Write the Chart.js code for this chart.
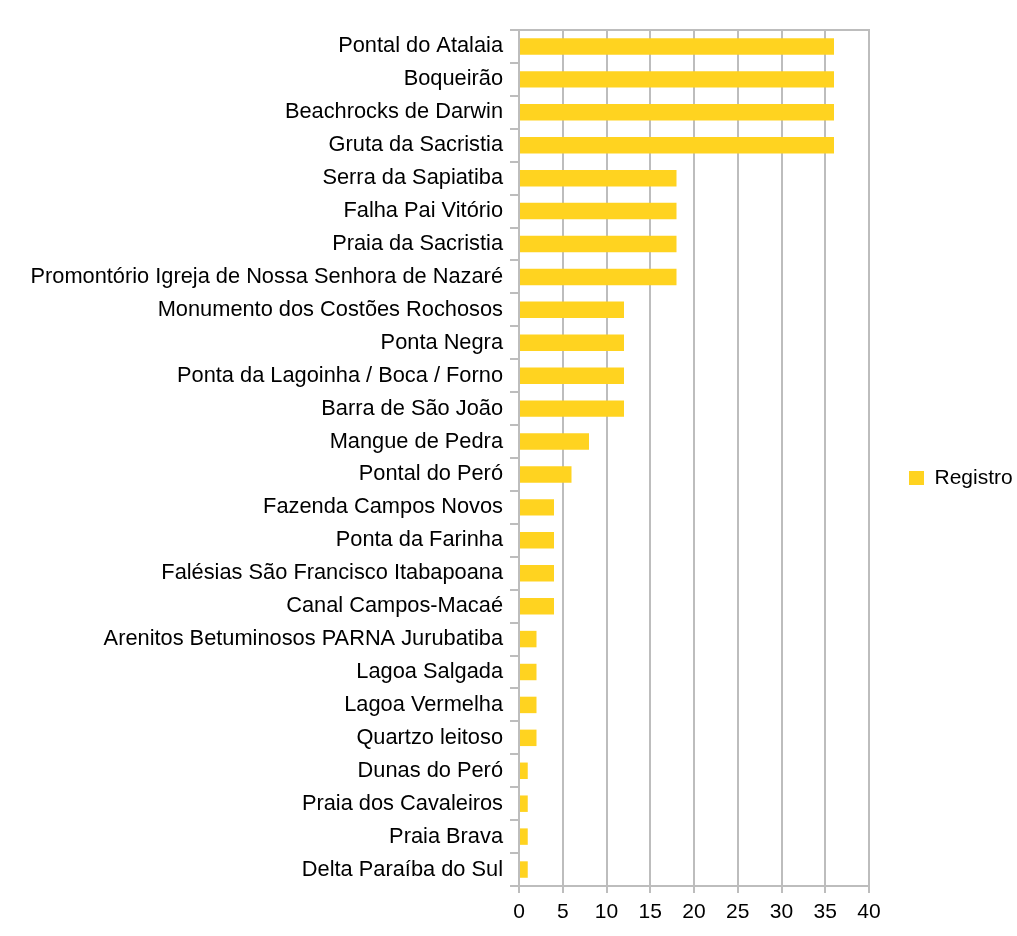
<!DOCTYPE html>
<html>
<head>
<meta charset="utf-8">
<script src="https://cdn.jsdelivr.net/npm/chart.js@4/dist/chart.umd.min.js"></script>
<style>
  html, body { margin: 0; padding: 0; background: #fff; }
  #wrap { width: 1017px; height: 936px; position: relative; }
</style>
</head>
<body>
<div id="wrap"><canvas id="c" width="1017" height="936"></canvas></div>
<script>
// Geosites and number of records
const categories = [
  'Pontal do Atalaia',
  'Boqueirão',
  'Beachrocks de Darwin',
  'Gruta da Sacristia',
  'Serra da Sapiatiba',
  'Falha Pai Vitório',
  'Praia da Sacristia',
  'Promontório Igreja de Nossa Senhora de Nazaré',
  'Monumento dos Costões Rochosos',
  'Ponta Negra',
  'Ponta da Lagoinha / Boca / Forno',
  'Barra de São João',
  'Mangue de Pedra',
  'Pontal do Peró',
  'Fazenda Campos Novos',
  'Ponta da Farinha',
  'Falésias São Francisco Itabapoana',
  'Canal Campos-Macaé',
  'Arenitos Betuminosos PARNA Jurubatiba',
  'Lagoa Salgada',
  'Lagoa Vermelha',
  'Quartzo leitoso',
  'Dunas do Peró',
  'Praia dos Cavaleiros',
  'Praia Brava',
  'Delta Paraíba do Sul'
];
const registro = [36, 36, 36, 36, 18, 18, 18, 18, 12, 12, 12, 12, 8, 6, 4, 4, 4, 4, 2, 2, 2, 2, 1, 1, 1, 1];
const seriesName = 'Registro';
const xTicks = [0, 5, 10, 15, 20, 25, 30, 35, 40];

const GRID = '#bdbdbd';
const FONT = 'Liberation Sans, Arial, sans-serif';

// Top edge of the frame around the plotting area
const frame = {
  id: 'frame',
  beforeDatasetsDraw(chart) {
    const a = chart.chartArea, ctx = chart.ctx;
    ctx.save();
    ctx.strokeStyle = GRID;
    ctx.lineWidth = 2;
    ctx.beginPath();
    ctx.moveTo(a.left, a.top);
    ctx.lineTo(a.right + 1, a.top);
    ctx.stroke();
    ctx.restore();
  }
};

// Fixed legend column width
const legendWidth = {
  id: 'legendWidth',
  afterInit(chart) {
    const lg = chart.legend;
    const fit = lg.fit.bind(lg);
    lg.fit = function () { fit(); this.width = 148; };
  }
};

new Chart(document.getElementById('c'), {
  type: 'bar',
  data: {
    labels: categories,
    datasets: [{
      label: seriesName,
      data: registro,
      backgroundColor: '#ffd320',
      borderWidth: 0,
      categoryPercentage: 1,
      barPercentage: 0.5
    }]
  },
  options: {
    indexAxis: 'y',
    responsive: false,
    animation: false,
    devicePixelRatio: 1,
    layout: { padding: { top: 30, bottom: 10, left: 0, right: 0 } },
    plugins: {
      tooltip: { enabled: false },
      legend: {
        position: 'right',
        labels: {
          boxWidth: 15,
          boxHeight: 14,
          padding: 40,
          color: '#000',
          font: { family: FONT, size: 21 }
        }
      }
    },
    scales: {
      x: {
        min: 0,
        max: 40,
        afterBuildTicks(s) { s.ticks = xTicks.map(v => ({ value: v })); },
        afterFit(s) { s.height = 40; },
        grid: { color: GRID, lineWidth: 2, tickLength: 7, drawOnChartArea: true },
        border: { display: true, color: GRID, width: 2 },
        ticks: { color: '#000', font: { family: FONT, size: 21 }, padding: 7 }
      },
      y: {
        afterFit(s) { s.width = 519; },
        grid: { color: GRID, lineWidth: 2, tickLength: 9, drawOnChartArea: false, offset: true },
        border: { display: true, color: GRID, width: 2 },
        ticks: { color: '#000', font: { family: FONT, size: 21.8 }, padding: 7, autoSkip: false }
      }
    }
  },
  plugins: [frame, legendWidth]
});
</script>
</body>
</html>
